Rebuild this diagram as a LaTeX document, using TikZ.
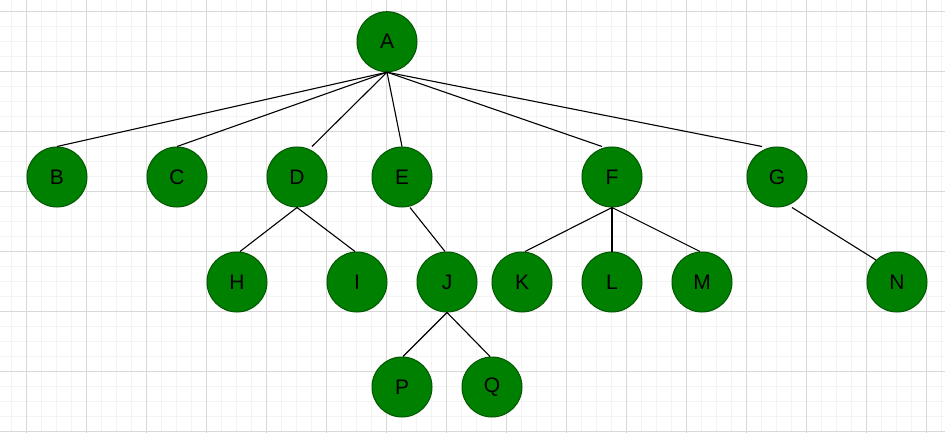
\documentclass[tikz,border=0pt]{standalone}
\usepackage{fontspec}
\setmainfont{Liberation Sans}
\definecolor{tgreen}{HTML}{008000}
\definecolor{dkgreen}{HTML}{005700}
\definecolor{gmajor}{HTML}{D8D8D8}
\definecolor{gminor}{HTML}{F3F3F3}
\begin{document}
\begin{tikzpicture}[x=1pt,y=-1pt,
  tn/.style={circle,draw=dkgreen,fill=tgreen,line width=1pt,minimum size=60pt,inner sep=0pt,font=\fontsize{21}{21}\selectfont},
  ed/.style={line width=1.1pt,draw=black},
  gmin/.style={draw=gminor,line width=1pt},
  gmaj/.style={draw=gmajor,line width=1pt}]
\fill[white] (0,0) rectangle (945,433);
\useasboundingbox (0,0) rectangle (945,433);
% grid
\foreach \i in {0,...,62} {\draw[gmin] ({11.667+15*\i},0) -- ({11.667+15*\i},433);}
\foreach \i in {0,...,28} {\draw[gmin] (0,{11.667+15*\i}) -- (945,{11.667+15*\i});}
\foreach \i in {0,...,15} {\draw[gmaj] ({26.667+60*\i},0) -- ({26.667+60*\i},433);}
\foreach \i in {0,...,7} {\draw[gmaj] (0,{11.667+60*\i}) -- (945,{11.667+60*\i});}
% nodes
\node[tn] (A) at (387,41.7) {A};
\node[tn] (B) at (57,177) {B};
\node[tn] (C) at (177,177) {C};
\node[tn] (D) at (297,177) {D};
\node[tn] (E) at (402,177) {E};
\node[tn] (F) at (612,177) {F};
\node[tn] (G) at (777,177) {G};
\node[tn] (H) at (237,282) {H};
\node[tn] (I) at (357,282) {I};
\node[tn] (J) at (447,282) {J};
\node[tn] (K) at (522,282) {K};
\node[tn] (L) at (612,282) {L};
\node[tn] (M) at (702,282) {M};
\node[tn] (N) at (897,282) {N};
\node[tn] (P) at (402,387) {P};
\node[tn] (Q) at (492,387) {Q};
% edges
\draw[ed] (A.south) -- (B.north);
\draw[ed] (A.south) -- (C.north);
\draw[ed] (A.south) -- ([xshift=15pt]D.north);
\draw[ed] (A.south) -- (E.north);
\draw[ed] (A.south) -- ([xshift=-10pt]F.north);
\draw[ed] (A.south) -- ([xshift=-15pt]G.north);
\draw[ed] (D.south) -- ([xshift=3pt]H.north);
\draw[ed] (D.south) -- ([xshift=-2pt]I.north);
\draw[ed] ([xshift=8pt]E.south) -- ([xshift=-2pt]J.north);
\draw[ed] (F.south) -- ([xshift=3pt]K.north);
\draw[ed] (F.south) -- (L.north);
\draw[ed] (F.south) -- ([xshift=-2pt]M.north);
\draw[ed] ([xshift=15pt]G.south) -- ([shift={(-21,-22)}]N.center);
\draw[ed] (J.south) -- ([xshift=1pt]P.north);
\draw[ed] (J.south) -- ([xshift=-2pt]Q.north);
\end{tikzpicture}
\end{document}
